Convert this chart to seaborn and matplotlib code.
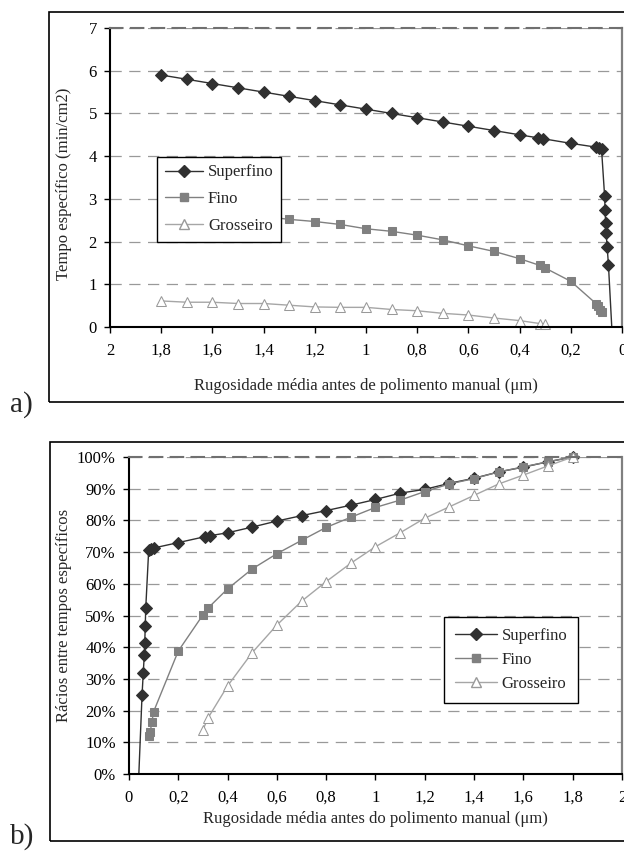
import matplotlib
matplotlib.use("Agg")
import matplotlib.pyplot as plt
from matplotlib.lines import Line2D
from matplotlib.patches import Rectangle
from matplotlib.ticker import FuncFormatter, MultipleLocator
import seaborn as sns

# rugosidade média antes do polimento (um)
x_superfino = [1.8, 1.7, 1.6, 1.5, 1.4, 1.3, 1.2, 1.1, 1.0, 0.9, 0.8, 0.7, 0.6, 0.5,
               0.4, 0.33, 0.31, 0.2, 0.1, 0.09, 0.08, 0.068, 0.066, 0.064, 0.062,
               0.058, 0.053, 0.04]
x_fino = [1.8, 1.7, 1.6, 1.5, 1.4, 1.3, 1.2, 1.1, 1.0, 0.9, 0.8, 0.7, 0.6, 0.5,
          0.4, 0.32, 0.3, 0.2, 0.1, 0.093, 0.086, 0.08]
x_grosseiro = [1.8, 1.7, 1.6, 1.5, 1.4, 1.3, 1.2, 1.1, 1.0, 0.9, 0.8, 0.7, 0.6, 0.5,
               0.4, 0.32, 0.3]

# a) tempo específico (min/cm2)
t_superfino = [5.9, 5.8, 5.7, 5.6, 5.5, 5.4, 5.3, 5.2, 5.1, 5.0, 4.9, 4.8, 4.7, 4.6,
               4.5, 4.43, 4.41, 4.3, 4.21, 4.19, 4.17, 3.07, 2.73, 2.43, 2.19,
               1.88, 1.46, 0.0]
t_fino = [2.78, 2.74, 2.69, 2.65, 2.59, 2.52, 2.47, 2.40, 2.30, 2.24, 2.15, 2.04,
          1.90, 1.77, 1.60, 1.44, 1.38, 1.07, 0.54, 0.48, 0.40, 0.34]
t_grosseiro = [0.61, 0.58, 0.58, 0.55, 0.55, 0.51, 0.47, 0.46, 0.46, 0.41, 0.38,
               0.32, 0.28, 0.21, 0.15, 0.08, 0.07]

# b) rácios entre tempos específicos (%)
r_superfino = [100, 98.5, 96.8, 95.3, 93.3, 91.7, 89.8, 88.6, 86.6, 84.8, 83.1,
               81.5, 79.8, 77.9, 76.1, 75.2, 74.9, 73.0, 71.3, 71.1, 70.7, 52.3,
               46.7, 41.4, 37.5, 32.0, 24.9, 0.0]
r_fino = [100, 98.5, 96.9, 95.3, 93.2, 91.5, 89.1, 86.4, 84.1, 81.0, 77.8, 73.7,
          69.5, 64.7, 58.4, 52.3, 50.2, 38.8, 19.7, 16.5, 13.2, 12.0]
r_grosseiro = [100, 97.2, 94.3, 91.5, 87.9, 84.3, 80.7, 76.1, 71.7, 66.5, 60.7,
               54.5, 47.0, 38.3, 27.8, 17.6, 13.9]

series = ["Superfino", "Fino", "Grosseiro"]
estilos = {
    "Superfino": dict(color="#303030", marker="D", markersize=6.5,
                      markerfacecolor="#303030", markeredgecolor="#303030"),
    "Fino": dict(color="#808080", marker="s", markersize=6,
                 markerfacecolor="#808080", markeredgecolor="#808080"),
    "Grosseiro": dict(color="#a6a6a6", marker="^", markersize=7.5,
                      markerfacecolor="white", markeredgecolor="#999999"),
}

sns.set_style("white")
plt.rcParams["font.family"] = ["Liberation Serif", "DejaVu Serif"]
plt.rcParams["font.size"] = 12


def virgula(v, pos):
    s = f"{v:.1f}".rstrip("0").rstrip(".").replace(".", ",")
    return "0" if s in ("-0", "") else s


def desenhar(ax, dados, ylabel, xlabel):
    for nome in series:
        xs, ys = dados[nome]
        mk = list(range(len(xs) - 1)) if nome == "Superfino" else None
        sns.lineplot(x=xs, y=ys, ax=ax, sort=False, estimator=None, lw=1,
                     markevery=mk, clip_on=False, **estilos[nome])
    ax.yaxis.grid(True, color="#999999", lw=0.9, linestyle=(0, (9, 6)))
    ax.set_axisbelow(True)
    for lado in ("left", "bottom"):
        ax.spines[lado].set_color("black")
        ax.spines[lado].set_linewidth(1.5)
    ax.spines["right"].set_color("#808080")
    ax.spines["right"].set_linewidth(1.6)
    ax.spines["top"].set_color("#707070")
    ax.spines["top"].set_linewidth(1.5)
    ax.spines["top"].set_linestyle((0, (6, 4)))
    ax.tick_params(axis="x", direction="out", length=4.5, width=1, pad=7,
                   bottom=True, colors="black", labelsize=12)
    ax.tick_params(axis="y", direction="out", length=4.5, width=1, pad=5,
                   left=True, colors="black", labelsize=12)
    ax.set_xlabel(xlabel, fontsize=12)
    ax.set_ylabel(ylabel, fontsize=12)
    handles = [Line2D([], [], lw=1, **estilos[n]) for n in series]
    return handles


fig = plt.figure(figsize=(6.24, 8.52), dpi=100)

# a)
ax1 = fig.add_axes([0.1763, 0.6162, 0.8205, 0.3509])
h = desenhar(ax1, {"Superfino": (x_superfino, t_superfino),
                   "Fino": (x_fino, t_fino),
                   "Grosseiro": (x_grosseiro, t_grosseiro)},
             "Tempo específico (min/cm2)",
             "Rugosidade média antes de polimento manual (μm)")
ax1.set_xlim(2, 0)
ax1.set_ylim(0, 7)
ax1.xaxis.set_major_locator(MultipleLocator(0.2))
ax1.yaxis.set_major_locator(MultipleLocator(1))
ax1.xaxis.set_major_formatter(FuncFormatter(virgula))
ax1.yaxis.set_label_coords(-0.074, 0.478)
ax1.xaxis.set_label_coords(0.5, -0.172)
leg1 = ax1.legend(h, series, loc="upper left", bbox_to_anchor=(0.092, 0.569),
                  borderaxespad=0, frameon=True, fancybox=False, shadow=False,
                  handlelength=2.3, handletextpad=0.3, borderpad=0.45,
                  labelspacing=0.65, fontsize=12)
leg1.get_frame().set_edgecolor("black")
leg1.get_frame().set_linewidth(1)
leg1.get_frame().set_alpha(1)

# b)
ax2 = fig.add_axes([0.2067, 0.0915, 0.790, 0.3721])
h = desenhar(ax2, {"Superfino": (x_superfino, r_superfino),
                   "Fino": (x_fino, r_fino),
                   "Grosseiro": (x_grosseiro, r_grosseiro)},
             "Rácios entre tempos específicos",
             "Rugosidade média antes do polimento manual (μm)")
ax2.set_xlim(0, 2)
ax2.set_ylim(0, 100)
ax2.xaxis.set_major_locator(MultipleLocator(0.2))
ax2.yaxis.set_major_locator(MultipleLocator(10))
ax2.xaxis.set_major_formatter(FuncFormatter(virgula))
ax2.yaxis.set_major_formatter(FuncFormatter(lambda v, p: f"{v:.0f}%"))
ax2.yaxis.set_label_coords(-0.1156, 0.5)
ax2.xaxis.set_label_coords(0.5, -0.117)
leg2 = ax2.legend(h, series, loc="upper left", bbox_to_anchor=(0.6396, 0.4962),
                  borderaxespad=0, frameon=True, fancybox=False, shadow=False,
                  handlelength=2.5, handletextpad=0.3, borderpad=0.65,
                  labelspacing=0.5, fontsize=12)
leg2.get_frame().set_edgecolor("black")
leg2.get_frame().set_linewidth(1)
leg2.get_frame().set_alpha(1)

# molduras e letras
fig.add_artist(Rectangle((0.0785, 0.5282), 1.0, 0.4577, transform=fig.transFigure,
                         fill=False, ec="black", lw=1.2))
fig.add_artist(Rectangle((0.080, 0.0129), 1.0, 0.4683, transform=fig.transFigure,
                         fill=False, ec="black", lw=1.2))
fig.text(0.016, 0.509, "a)", fontsize=21, va="bottom")
fig.text(0.016, 0.002, "b)", fontsize=21, va="bottom")

fig.savefig("out.png", dpi=100)
